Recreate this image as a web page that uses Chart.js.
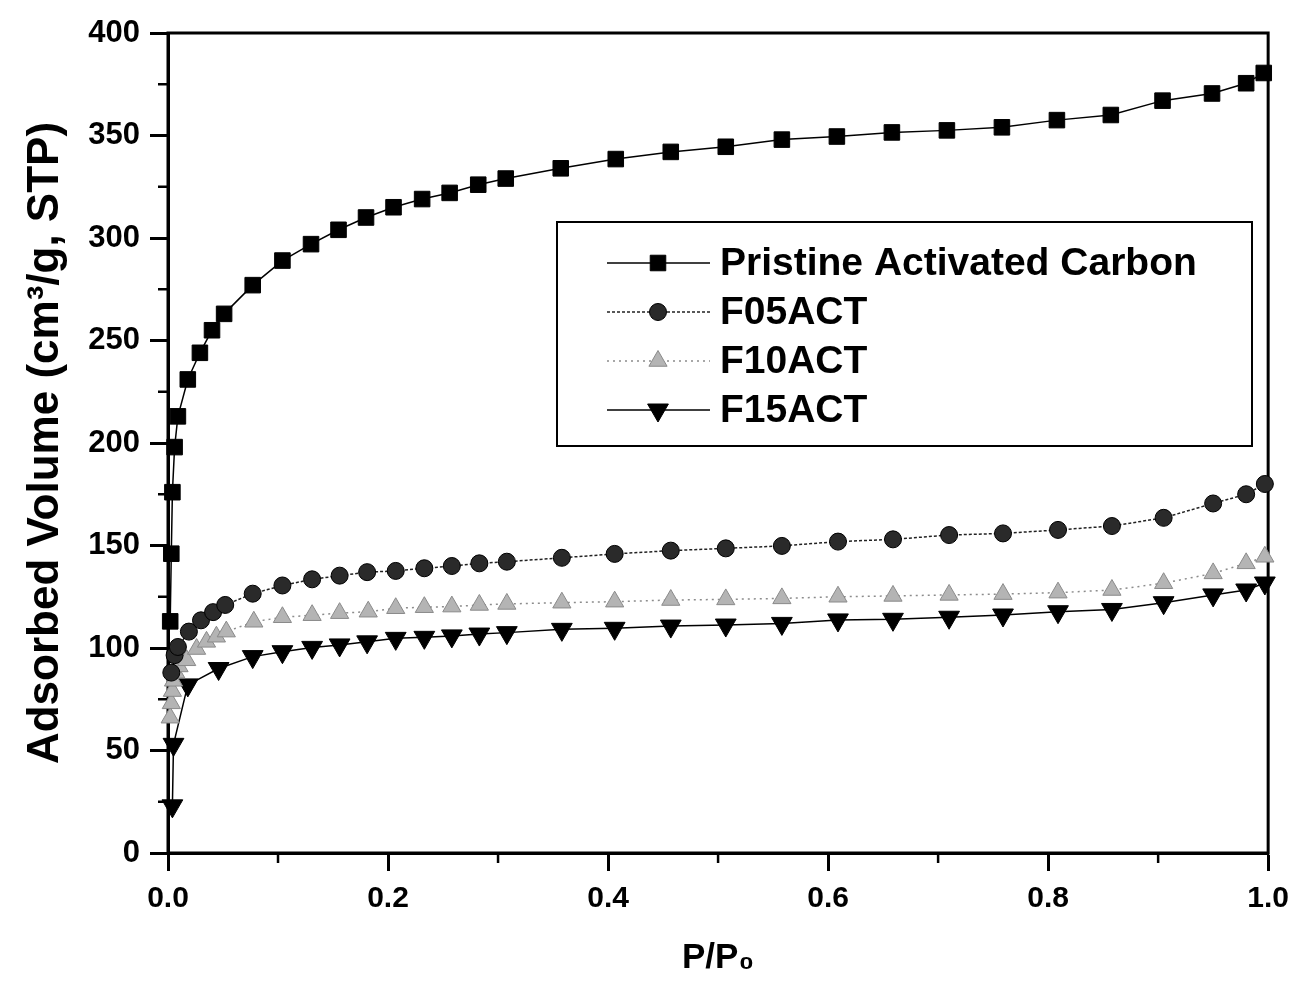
<!DOCTYPE html>
<html>
<head>
<meta charset="utf-8">
<title>Adsorption isotherms</title>
<script src="https://cdn.jsdelivr.net/npm/chart.js@4.4.1/dist/chart.umd.min.js"></script>
<style>
  html, body { margin: 0; padding: 0; background: #fff; }
  #wrap { width: 1299px; height: 987px; }
</style>
</head>
<body>
<div id="wrap"><canvas id="js--chart--1"></canvas></div>
<script>
// P/P0 and adsorbed volume
const pristineX = [0.002, 0.003, 0.004, 0.006, 0.009, 0.018, 0.029, 0.040, 0.051, 0.077, 0.104, 0.130, 0.155, 0.180, 0.205, 0.231, 0.256, 0.282, 0.307, 0.357, 0.407, 0.457, 0.507, 0.558, 0.608, 0.658, 0.708, 0.758, 0.808, 0.857, 0.904, 0.949, 0.980, 0.996];
const pristineY = [113, 146, 176, 198, 213, 231, 244, 255, 263, 277, 289, 297, 304, 310, 315, 319, 322, 326, 329, 334, 338.5, 342, 344.5, 348, 349.5, 351.5, 352.5, 354, 357.5, 360, 367, 370.5, 375.5, 380.5];

const f05X = [0.003, 0.006, 0.009, 0.019, 0.030, 0.041, 0.052, 0.077, 0.104, 0.131, 0.156, 0.181, 0.207, 0.233, 0.258, 0.283, 0.308, 0.358, 0.406, 0.457, 0.507, 0.558, 0.609, 0.659, 0.710, 0.759, 0.809, 0.858, 0.905, 0.950, 0.980, 0.997];
const f05Y = [88, 96.5, 100.5, 108, 113.5, 117.5, 121, 126.5, 130.5, 133.5, 135.3, 137, 137.6, 138.9, 140, 141.3, 142.1, 144, 145.9, 147.5, 148.6, 149.8, 151.9, 153, 155.1, 155.9, 157.6, 159.5, 163.5, 170.5, 175, 180];

const f10X = [0.002, 0.003, 0.004, 0.005, 0.007, 0.010, 0.017, 0.026, 0.035, 0.044, 0.053, 0.078, 0.104, 0.131, 0.156, 0.182, 0.207, 0.233, 0.258, 0.283, 0.308, 0.358, 0.406, 0.457, 0.507, 0.558, 0.609, 0.659, 0.710, 0.759, 0.809, 0.858, 0.905, 0.950, 0.980, 0.997];
const f10Y = [66, 73, 79, 84, 88, 91, 94, 99.5, 103, 105.5, 108, 112.8, 115, 116, 117, 117.7, 119.4, 119.9, 120.2, 121, 121.5, 122.1, 122.6, 123.4, 123.7, 124.2, 125, 125.4, 125.9, 126.3, 127, 128.3, 131.6, 136.4, 141.3, 144.5];

const f15X = [0.004, 0.005, 0.018, 0.046, 0.077, 0.104, 0.131, 0.156, 0.181, 0.207, 0.233, 0.258, 0.283, 0.308, 0.358, 0.406, 0.457, 0.507, 0.558, 0.609, 0.659, 0.710, 0.759, 0.809, 0.858, 0.905, 0.950, 0.980, 0.997];
const f15Y = [23, 53, 82, 90, 95.8, 98.2, 100.3, 101.5, 103, 104.7, 105.2, 105.9, 106.8, 107.5, 109.1, 109.6, 110.7, 111.2, 112, 113.7, 114, 115, 116.1, 117.7, 118.8, 122.1, 125.9, 128.3, 131.7];

const seriesNames = ["Pristine Activated Carbon", "F05ACT", "F10ACT", "F15ACT"];

const minorX = [0.1, 0.3, 0.5, 0.7, 0.9];
const minorY = [25, 75, 125, 175, 225, 275, 325, 375];

const FONT = "'Liberation Sans', Arial, Helvetica, sans-serif";

function toPoints(xs, ys) {
    return xs.map((x, i) => ({x: x, y: ys[i]}));
}

const datasets = [
    {
        label: seriesNames[0],
        data: toPoints(pristineX, pristineY),
        borderColor: '#000',
        borderWidth: 1.5,
        pointStyle: 'rect',
        pointRadius: 11,
        pointBackgroundColor: '#000',
        pointBorderColor: '#000',
        pointBorderWidth: 1,
    },
    {
        label: seriesNames[1],
        data: toPoints(f05X, f05Y),
        borderColor: '#222',
        borderWidth: 1.5,
        borderDash: [3, 2],
        pointStyle: 'circle',
        pointRadius: 8.5,
        pointBackgroundColor: '#2a2a2a',
        pointBorderColor: '#000',
        pointBorderWidth: 1,
    },
    {
        label: seriesNames[2],
        data: toPoints(f10X, f10Y),
        borderColor: '#8c8c8c',
        borderWidth: 1.5,
        borderDash: [2, 4],
        pointStyle: 'triangle',
        pointRadius: 10.5,
        pointBackgroundColor: '#b4b4b4',
        pointBorderColor: '#8a8a8a',
        pointBorderWidth: 1,
    },
    {
        label: seriesNames[3],
        data: toPoints(f15X, f15Y),
        borderColor: '#000',
        borderWidth: 1.5,
        pointStyle: 'triangle',
        pointRotation: 180,
        pointRadius: 12,
        pointBackgroundColor: '#000',
        pointBorderColor: '#000',
        pointBorderWidth: 1,
    },
];

// top/right frame plus the short minor ticks
const framePlugin = {
    id: 'frame',
    beforeDatasetsDraw(chart) {
        const {ctx, chartArea: a, scales} = chart;
        ctx.save();
        ctx.strokeStyle = '#000';
        ctx.lineWidth = 3;
        ctx.strokeRect(a.left, a.top, a.right - a.left, a.bottom - a.top);
        ctx.lineWidth = 2.5;
        minorX.forEach(v => {
            const px = scales.x.getPixelForValue(v);
            ctx.beginPath();
            ctx.moveTo(px, a.bottom);
            ctx.lineTo(px, a.bottom + 10);
            ctx.stroke();
        });
        minorY.forEach(v => {
            const py = scales.y.getPixelForValue(v);
            ctx.beginPath();
            ctx.moveTo(a.left, py);
            ctx.lineTo(a.left - 10, py);
            ctx.stroke();
        });
        ctx.restore();
    }
};

// boxed legend inside the plot
const boxLegend = {
    id: 'boxLegend',
    afterDatasetsDraw(chart) {
        const ctx = chart.ctx;
        ctx.save();
        ctx.fillStyle = '#fff';
        ctx.fillRect(557, 222, 695, 224);
        ctx.strokeStyle = '#000';
        ctx.lineWidth = 2;
        ctx.strokeRect(557, 222, 695, 224);
        chart.data.datasets.forEach((ds, i) => {
            const y = 263 + i * 49;
            ctx.strokeStyle = ds.borderColor;
            ctx.lineWidth = ds.borderWidth;
            ctx.setLineDash(ds.borderDash || []);
            ctx.beginPath();
            ctx.moveTo(607, y);
            ctx.lineTo(710, y);
            ctx.stroke();
            ctx.setLineDash([]);
            ctx.fillStyle = ds.pointBackgroundColor;
            ctx.strokeStyle = ds.pointBorderColor;
            ctx.lineWidth = ds.pointBorderWidth;
            Chart.helpers.drawPoint(ctx, {
                pointStyle: ds.pointStyle,
                radius: ds.pointRadius,
                rotation: ds.pointRotation || 0,
                borderWidth: ds.pointBorderWidth
            }, 658, y);
            ctx.fillStyle = '#000';
            ctx.font = 'bold 39px ' + FONT;
            ctx.textBaseline = 'middle';
            ctx.textAlign = 'left';
            ctx.fillText(ds.label, 720, y + 1);
        });
        ctx.restore();
    }
};

const config = {
    type: 'scatter',
    data: {datasets: datasets},
    options: {
        responsive: true,
        maintainAspectRatio: false,
        animation: false,
        layout: {padding: {left: 0, top: 33, right: 29, bottom: 0}},
        datasets: {scatter: {showLine: true, tension: 0, clip: false}},
        plugins: {
            legend: {display: false},
            tooltip: {enabled: false},
        },
        scales: {
            x: {
                type: 'linear',
                min: 0,
                max: 1,
                afterFit: scale => { scale.height = 134; },
                ticks: {
                    stepSize: 0.2,
                    padding: 10,
                    color: '#000',
                    font: {family: FONT, size: 30, weight: 'bold'},
                    callback: v => v.toFixed(1),
                },
                grid: {drawOnChartArea: false, drawTicks: true, tickLength: 18, tickWidth: 3, tickColor: '#000'},
                border: {display: true, width: 3, color: '#000'},
                title: {
                    display: true,
                    text: 'P/P\u2080',
                    color: '#000',
                    font: {family: FONT, size: 35, weight: 'bold'},
                    padding: {top: 0, bottom: 8},
                },
            },
            y: {
                type: 'linear',
                min: 0,
                max: 400,
                afterFit: scale => { scale.width = 168; },
                ticks: {
                    stepSize: 50,
                    padding: 10,
                    color: '#000',
                    font: {family: FONT, size: 31, weight: 'bold'},
                },
                grid: {drawOnChartArea: false, drawTicks: true, tickLength: 18, tickWidth: 3, tickColor: '#000'},
                border: {display: true, width: 3, color: '#000'},
                title: {
                    display: true,
                    text: 'Adsorbed Volume (cm\u00B3/g, STP)',
                    color: '#000',
                    font: {family: FONT, size: 44, weight: 'bold'},
                    padding: {top: 19, bottom: 0},
                },
            },
        },
    },
    plugins: [framePlugin, boxLegend],
};

new Chart(document.getElementById("js--chart--1"), config);
</script>
</body>
</html>
